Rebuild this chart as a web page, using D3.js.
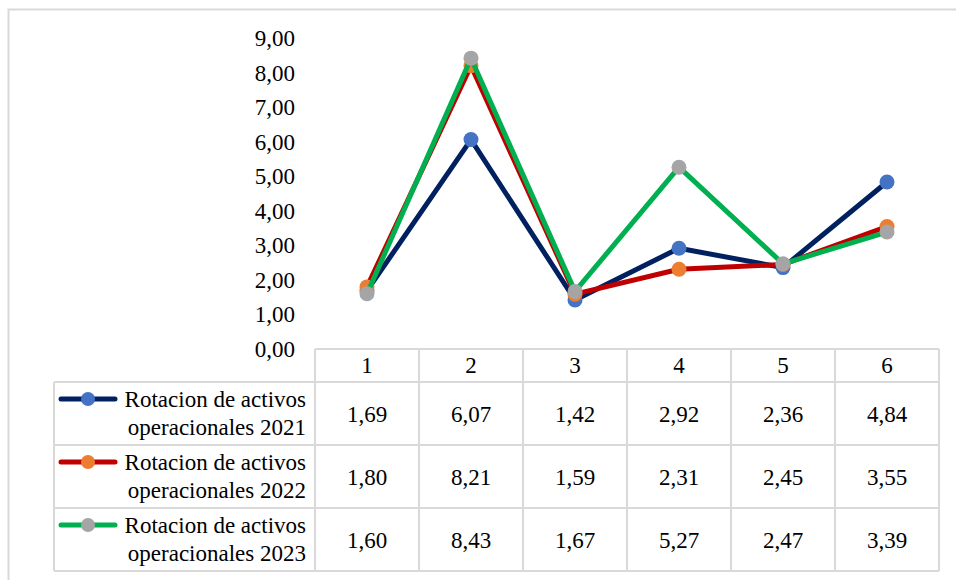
<!DOCTYPE html>
<html>
<head>
<meta charset="utf-8">
<script src="https://cdn.jsdelivr.net/npm/d3@7"></script>
</head>
<body style="margin:0">
<script>
// data
const categories = ["1", "2", "3", "4", "5", "6"];
const seriesNames = ["Rotacion de activos operacionales 2021",
                     "Rotacion de activos operacionales 2022",
                     "Rotacion de activos operacionales 2023"];
const values2021 = [1.69, 6.07, 1.42, 2.92, 2.36, 4.84];
const values2022 = [1.80, 8.21, 1.59, 2.31, 2.45, 3.55];
const values2023 = [1.60, 8.43, 1.67, 5.27, 2.47, 3.39];
const yTicks = [0, 1, 2, 3, 4, 5, 6, 7, 8, 9];

const lineColors = ["#002060", "#c00000", "#00b050"];
const markerColors = ["#4472c4", "#ed7d31", "#a5a5a5"];

const width = 956, height = 580;
const fontSize = "23px";
const fontFam = "Liberation Serif";
const gridColor = "#d9d9d9";

const series = [values2021, values2022, values2023].map((v, i) => ({
    name: seriesNames[i], values: v, line: lineColors[i], marker: markerColors[i]
}));

const fmt = v => d3.format(".2f")(v).replace(".", ",");

let svg = d3.select("body")
    .append("svg")
    .attr("width", width)
    .attr("height", height)
    .attr("font-family", fontFam)
    .style("font-family", "'" + fontFam + "'");

// outer chart border
svg.append("rect")
    .attr("x", 8.5).attr("y", 9.5)
    .attr("width", 1000).attr("height", 700)
    .attr("fill", "none")
    .attr("stroke", gridColor)
    .attr("stroke-width", 2);

let x = d3.scaleBand()
    .domain(categories)
    .range([315, 939]);

let y = d3.scaleLinear()
    .domain([0, 9])
    .range([349, 38.5]);

let rows = d3.scaleBand()
    .domain(seriesNames)
    .range([382, 571]);

const cx = c => x(c) + x.bandwidth() / 2;

// small helper so every text gets the serif face
function serif(sel) {
    return sel.attr("font-family", fontFam)
        .style("font-family", "'" + fontFam + "'")
        .style("font-size", fontSize)
        .attr("fill", "#000");
}

// y axis
let yAxis = svg.append("g")
    .attr("transform", "translate(300,0)")
    .call(d3.axisLeft(y).tickValues(yTicks).tickFormat(fmt).tickSize(0).tickPadding(5));
yAxis.select(".domain").remove();
yAxis.attr("font-family", fontFam).attr("font-size", null);
serif(yAxis.selectAll("text"));

// data table grid
let grid = svg.append("g")
    .attr("stroke", gridColor)
    .attr("stroke-width", 2)
    .attr("fill", "none");

// header row
grid.append("line").attr("x1", x.range()[0]).attr("x2", x.range()[1]).attr("y1", y(0)).attr("y2", y(0));
// row lines
[rows.range()[0]].concat(seriesNames.map(n => rows(n) + rows.bandwidth())).forEach(yy => {
    grid.append("line").attr("x1", 54).attr("x2", x.range()[1]).attr("y1", yy).attr("y2", yy);
});
// column lines
categories.forEach(c => {
    grid.append("line").attr("x1", x(c)).attr("x2", x(c)).attr("y1", y(0)).attr("y2", rows.range()[1]);
});
grid.append("line").attr("x1", x.range()[1]).attr("x2", x.range()[1]).attr("y1", y(0)).attr("y2", rows.range()[1]);
grid.append("line").attr("x1", 54).attr("x2", 54).attr("y1", rows.range()[0]).attr("y2", rows.range()[1]);

// header labels
serif(svg.append("g").selectAll("text")
    .data(categories)
    .enter()
    .append("text")
    .attr("x", d => cx(d))
    .attr("y", 373)
    .attr("text-anchor", "middle")
    .text(d => d));

// table values and legend
series.forEach(s => {
    let top = rows(s.name);
    let g = svg.append("g");

    serif(g.selectAll("text.val")
        .data(s.values)
        .enter()
        .append("text")
        .attr("class", "val")
        .attr("x", (d, i) => cx(categories[i]))
        .attr("y", top + rows.bandwidth() / 2 + 8)
        .attr("text-anchor", "middle")
        .text(d => fmt(d)));

    // legend key
    g.append("line")
        .attr("x1", 61).attr("x2", 115)
        .attr("y1", top + 17).attr("y2", top + 17)
        .attr("stroke", s.line)
        .attr("stroke-width", 5)
        .attr("stroke-linecap", "round");
    g.append("circle")
        .attr("cx", 88).attr("cy", top + 17)
        .attr("r", 7)
        .attr("fill", s.marker);

    // legend label, two lines, right aligned in the cell
    let words = s.name.split(" ");
    let label = serif(g.append("text").attr("text-anchor", "end"));
    label.append("tspan").attr("x", 306).attr("y", top + 25).text(words.slice(0, 3).join(" "));
    label.append("tspan").attr("x", 306).attr("y", top + 53).text(words.slice(3).join(" "));
});

// lines and markers
let line = d3.line()
    .x((d, i) => cx(categories[i]))
    .y(d => y(d));

series.forEach(s => {
    svg.append("path")
        .datum(s.values)
        .attr("fill", "none")
        .attr("stroke", s.line)
        .attr("stroke-width", 5)
        .attr("stroke-linejoin", "round")
        .attr("d", line);

    svg.append("g").selectAll("circle")
        .data(s.values)
        .enter()
        .append("circle")
        .attr("cx", (d, i) => cx(categories[i]))
        .attr("cy", d => y(d))
        .attr("r", 7.5)
        .attr("fill", s.marker);
});
</script>
</body>
</html>
